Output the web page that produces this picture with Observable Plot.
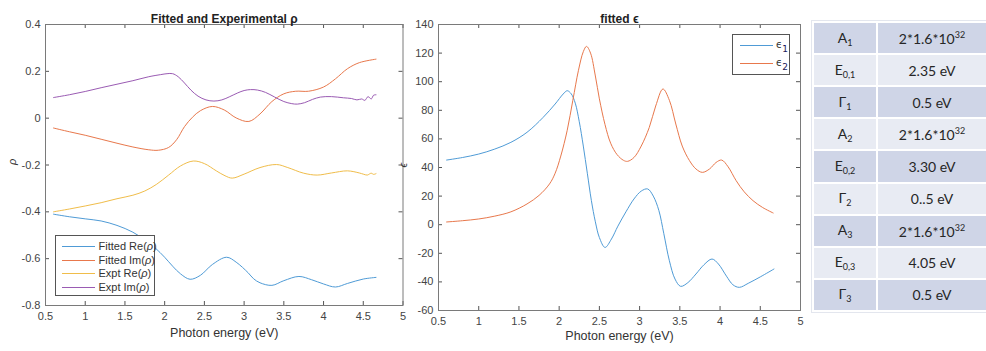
<!DOCTYPE html>
<html><head><meta charset="utf-8">
<script src="https://cdn.jsdelivr.net/npm/d3@7"></script>
<script src="https://cdn.jsdelivr.net/npm/@observablehq/plot@0.6"></script>
<style>
body{margin:0;background:#fff;width:986px;height:351px;overflow:hidden;position:relative;font-family:"Liberation Sans",Arial,sans-serif;}
.panel{position:absolute;top:0;height:351px;}
.panel svg{max-width:none !important;}
#overlay{position:absolute;left:0;top:0;pointer-events:none;}
#params{position:absolute;left:812px;top:21px;width:176px;height:291px;border-collapse:collapse;font-family:Lato,"Open Sans",sans-serif;font-size:14px;color:#262626;outline:1px solid #e3e6ee;}
#params td{border:2px solid #fff;text-align:center;vertical-align:middle;padding:0;height:30px;}
#params td:first-child{width:62px;}
#params tr:nth-child(odd) td{background:#cfd5e7;}
#params tr:nth-child(even) td{background:#e8ebf3;}
#params sub{font-size:9px;vertical-align:-3px;}
#params sup{font-size:9px;vertical-align:6px;}
</style></head><body>
<div id="left" class="panel" style="left:0;width:410px"></div>
<div id="right" class="panel" style="left:398px;width:410px"></div>
<svg id="overlay" width="986" height="351"></svg>
<table id="params"></table>
<script>
// ---------- data: left plot (rho) ----------
const xTicks = [0.5, 1, 1.5, 2, 2.5, 3, 3.5, 4, 4.5, 5];
const rhoTicks = [-0.8, -0.6, -0.4, -0.2, 0, 0.2, 0.4];
const epsTicks = [-60, -40, -20, 0, 20, 40, 60, 80, 100, 120, 140];

const fitReE = [0.6,0.8,1.0,1.2,1.4,1.6,1.75,1.88,2.0,2.1,2.2,2.32,2.45,2.6,2.78,2.9,3.05,3.12,3.2,3.35,3.5,3.69,3.85,4.0,4.15,4.3,4.5,4.66];
const fitReV = [-0.41,-0.421,-0.43,-0.439,-0.458,-0.487,-0.52,-0.554,-0.594,-0.632,-0.665,-0.688,-0.671,-0.625,-0.594,-0.615,-0.66,-0.686,-0.703,-0.714,-0.694,-0.676,-0.69,-0.708,-0.721,-0.706,-0.687,-0.68];

const fitImE = [0.6,0.8,1.0,1.2,1.4,1.6,1.8,1.92,2.05,2.15,2.25,2.35,2.45,2.6,2.75,2.9,3.06,3.2,3.35,3.5,3.65,3.81,4.0,4.15,4.3,4.45,4.66];
const fitImV = [-0.042,-0.058,-0.073,-0.09,-0.107,-0.123,-0.135,-0.137,-0.125,-0.092,-0.036,0.004,0.032,0.05,0.035,0.001,-0.014,0.018,0.071,0.104,0.115,0.115,0.133,0.168,0.211,0.237,0.252];

const expReE = [0.6,0.8,1.0,1.2,1.4,1.6,1.75,1.9,2.05,2.2,2.36,2.5,2.65,2.76,2.85,3.0,3.2,3.41,3.55,3.75,3.92,4.1,4.3,4.45,4.5,4.55,4.6,4.63,4.66];
const expReV = [-0.40,-0.388,-0.375,-0.361,-0.344,-0.329,-0.311,-0.282,-0.243,-0.204,-0.183,-0.194,-0.225,-0.246,-0.256,-0.239,-0.211,-0.198,-0.211,-0.235,-0.243,-0.234,-0.225,-0.234,-0.239,-0.243,-0.235,-0.24,-0.237];

const expImE = [0.6,0.8,1.0,1.2,1.4,1.6,1.8,1.95,2.03,2.1,2.17,2.25,2.33,2.42,2.52,2.62,2.72,2.82,2.92,3.0,3.08,3.17,3.27,3.38,3.5,3.6,3.67,3.76,3.86,3.96,4.1,4.25,4.35,4.42,4.48,4.52,4.56,4.6,4.63,4.66];
const expImV = [0.088,0.1,0.114,0.13,0.145,0.16,0.177,0.186,0.19,0.19,0.177,0.15,0.12,0.094,0.078,0.073,0.078,0.092,0.108,0.118,0.122,0.12,0.11,0.091,0.071,0.062,0.06,0.066,0.08,0.09,0.092,0.087,0.084,0.078,0.082,0.076,0.092,0.082,0.098,0.1];

// ---------- data: right plot (epsilon) ----------
const eps1E = [0.6,0.8,1.0,1.2,1.4,1.6,1.8,1.95,2.05,2.1,2.15,2.2,2.25,2.3,2.35,2.4,2.45,2.5,2.57,2.65,2.73,2.83,2.93,3.02,3.1,3.17,3.24,3.3,3.37,3.44,3.51,3.6,3.7,3.8,3.9,3.98,4.08,4.16,4.24,4.35,4.5,4.67];
const eps1V = [45.2,47,49.4,52.9,57.6,64.6,75,84.4,91.4,93.7,91.5,85,72,55,36,17,2,-9,-15.9,-10,-1,9,18,23.5,25,20,9.8,-6,-25.2,-38,-43.1,-40.5,-34.5,-28,-24,-27.5,-36,-42,-43.8,-41,-36.5,-31];

const eps2E = [0.6,0.8,1.0,1.2,1.4,1.6,1.75,1.88,1.95,2.02,2.1,2.17,2.24,2.3,2.34,2.39,2.45,2.5,2.57,2.64,2.72,2.8,2.85,2.93,3.02,3.12,3.2,3.29,3.37,3.45,3.53,3.62,3.7,3.78,3.87,3.95,4.02,4.1,4.2,4.3,4.41,4.53,4.66];
const eps2V = [1.9,2.8,4,6,9,14.5,20.5,28.5,36,48,66,87,108,121,124.7,120,104,88,70,57,49,45,44.3,47,55,68,83,94.9,87,70.4,55,44.8,39,36.6,39,43.5,45.2,40.5,30.8,23,16.8,12,8.2];

// ---------- data: parameter table ----------
const paramNames = ["A<sub>1</sub>","E<sub>0,1</sub>","Γ<sub>1</sub>","A<sub>2</sub>","E<sub>0,2</sub>","Γ<sub>2</sub>","A<sub>3</sub>","E<sub>0,3</sub>","Γ<sub>3</sub>"];
const paramValues = ["2*1.6*10<sup>32</sup>","2.35 eV","0.5 eV","2*1.6*10<sup>32</sup>","3.30 eV","0..5 eV","2*1.6*10<sup>32</sup>","4.05 eV","0.5 eV"];

const C = {blue:"#4f9bd6", orange:"#e8784c", yellow:"#f0bd4a", purple:"#9a5bb3"};
const fmt = d => String(Math.round(d * 100) / 100);
const pts = (E, V) => E.map((e, i) => ({e, v: V[i]}));

function panel({width, height, ml, mr, mt, mb, yDomain, yTicks, title, ylab, ylabDx, xlabDy, series}) {
  const iw = width - ml - mr, ih = height - mt - mb;
  const tc = "#555";
  return Plot.plot({
    width, height, marginLeft: ml, marginRight: mr, marginTop: mt, marginBottom: mb,
    style: {background: "transparent", overflow: "visible", fontFamily: "Liberation Sans, Arial, sans-serif", fontSize: "11px", color: "#444"},
    x: {domain: [0.5, 5]},
    y: {domain: yDomain},
    marks: [
      Plot.axisX({ticks: xTicks, tickSize: 0, tickPadding: 7, tickFormat: fmt, label: null}),
      Plot.axisY({ticks: yTicks, tickSize: 0, tickPadding: 5, tickFormat: fmt, label: null}),
      ...series.map(s => Plot.line(pts(s.E, s.V), {x: "e", y: "v", stroke: s.color, strokeWidth: 1, curve: "catmull-rom"})),
      Plot.tickX(xTicks, {x: d => d, insetTop: ih - 4, stroke: tc}),
      Plot.tickX(xTicks, {x: d => d, insetBottom: ih - 4, stroke: tc}),
      Plot.tickY(yTicks, {y: d => d, insetRight: iw - 4, stroke: tc}),
      Plot.tickY(yTicks, {y: d => d, insetLeft: iw - 4, stroke: tc}),
      Plot.frame({stroke: "#7a7a7a"}),
      Plot.text([title], {frameAnchor: "top", dy: -10, fontWeight: "bold", fontSize: 12, fill: "#222"}),
      Plot.text(["Photon energy (eV)"], {frameAnchor: "bottom", dy: xlabDy, fontSize: 12.5, fill: "#333"}),
      Plot.text([ylab], {frameAnchor: "left", dx: ylabDx, rotate: -90, fontSize: 11, fontStyle: "italic", fill: "#333"})
    ]
  });
}

document.getElementById("left").append(panel({
  width: 410, height: 351, ml: 45, mr: 7.5, mt: 24, mb: 46,
  yDomain: [-0.8, 0.4], yTicks: rhoTicks, title: "Fitted and Experimental ρ", ylab: "ρ", ylabDx: -33, xlabDy: 31,
  series: [
    {E: fitReE, V: fitReV, color: C.blue},
    {E: fitImE, V: fitImV, color: C.orange},
    {E: expReE, V: expReV, color: C.yellow},
    {E: expImE, V: expImV, color: C.purple}
  ]
}));

document.getElementById("right").append(panel({
  width: 410, height: 351, ml: 40, mr: 8, mt: 24, mb: 41,
  yDomain: [-60, 140], yTicks: epsTicks, title: "fitted ϵ", ylab: "ϵ", ylabDx: -35, xlabDy: 29,
  series: [
    {E: eps1E, V: eps1V, color: C.blue},
    {E: eps2E, V: eps2V, color: C.orange}
  ]
}));

// ---------- legends ----------
const ov = d3.select("#overlay");
const legL = [["Fitted Re(", C.blue], ["Fitted Im(", C.orange], ["Expt Re(", C.yellow], ["Expt Im(", C.purple]];
ov.append("rect").attr("x", 55.5).attr("y", 235.5).attr("width", 99).attr("height", 60).attr("fill", "#fff").attr("stroke", "#555");
legL.forEach(([t, c], i) => {
  const y = Math.round(246 + i * 13.7) + 0.5;
  ov.append("line").attr("x1", 62).attr("x2", 95).attr("y1", y).attr("y2", y).style("stroke", c).attr("stroke-width", 1.2);
  const tx = ov.append("text").attr("x", 98.5).attr("y", y).attr("dy", "0.35em").attr("font-size", 11).attr("fill", "#333")
    .attr("font-family", "Liberation Sans, Arial, sans-serif");
  tx.append("tspan").text(t);
  tx.append("tspan").attr("font-style", "italic").text("ρ");
  tx.append("tspan").text(")");
});
const legR = [["1", C.blue], ["2", C.orange]];
ov.append("rect").attr("x", 732.5).attr("y", 34.5).attr("width", 57).attr("height", 40).attr("fill", "#fff").attr("stroke", "#555");
legR.forEach(([s, c], i) => {
  const y = 45.5 + i * 18;
  ov.append("line").attr("x1", 740).attr("x2", 773).attr("y1", y).attr("y2", y).style("stroke", c).attr("stroke-width", 1.2);
  const tx = ov.append("text").attr("x", 776).attr("y", y).attr("dy", "0.2em").attr("font-size", 10).attr("fill", "#333")
    .attr("font-family", "DejaVu Sans, sans-serif");
  tx.append("tspan").text("ϵ");
  tx.append("tspan").attr("dy", 4).attr("font-size", 9).attr("fill", "#1a1a5a").text(s);
});

// ---------- table ----------
const tbl = d3.select("#params");
paramNames.forEach((n, i) => {
  const tr = tbl.append("tr");
  tr.append("td").html(n);
  tr.append("td").html(paramValues[i]);
});
</script>
</body></html>
